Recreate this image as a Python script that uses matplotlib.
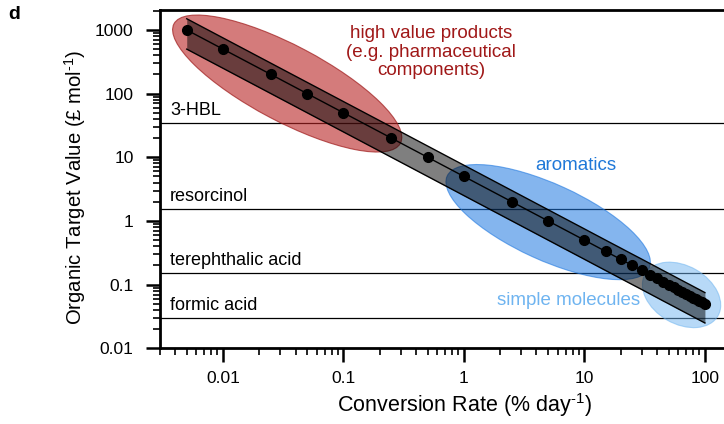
import matplotlib
matplotlib.use("Agg")
import matplotlib.pyplot as plt
from matplotlib.patches import Ellipse
from matplotlib.transforms import IdentityTransform, blended_transform_factory

plt.rcParams["font.family"] = ["Liberation Sans", "DejaVu Sans"]
plt.rcParams["mathtext.fontset"] = "custom"
plt.rcParams["mathtext.rm"] = "Liberation Sans"

# conversion rate (% per day) and organic target value (GBP per mol)
rate = [0.005, 0.01, 0.025, 0.05, 0.1, 0.25, 0.5, 1, 2.5, 5, 10, 15, 20, 25,
        30, 35, 40, 45, 50, 55, 60, 65, 70, 75, 80, 85, 90, 95, 100]
value = [1000, 500, 200, 100, 50, 20, 10, 5, 2, 1, 0.5, 0.333, 0.25, 0.2,
         0.167, 0.143, 0.125, 0.111, 0.1, 0.0909, 0.0833, 0.0769, 0.0714,
         0.0667, 0.0625, 0.0588, 0.0556, 0.0526, 0.05]
band_hi = [v * 1.5 for v in value]
band_lo = [v * 0.5 for v in value]

ref_names = ["3-HBL", "resorcinol", "terephthalic acid", "formic acid"]
ref_values = [35, 1.55, 0.155, 0.03]

# (label, centre rate, centre value, width px, height px, angle, face, edge, text colour, text pos)
groups = [
    ("high value products\n(e.g. pharmaceutical\ncomponents)", 0.0341, 144, 256, 76, -27.8,
     (0.72, 0.14, 0.14, 0.6), (0.62, 0.1, 0.1, 0.7), "#a01818", (0.533, 450)),
    ("aromatics", 5.0, 0.96, 222, 76, -24.5,
     (0.12, 0.47, 0.88, 0.55), (0.12, 0.47, 0.88, 0.6), "#1f78d8", (8.5, 7.3)),
    ("simple molecules", 64, 0.069, 84, 58, -30,
     (0.44, 0.71, 0.94, 0.5), (0.44, 0.71, 0.94, 0.55), "#6fb4f0", (7.45, 0.057)),
]

fig = plt.figure(figsize=(7.24, 4.24), dpi=100)
ax = fig.add_axes([0.221, 0.1785, 0.779, 0.798])
ax.set_xscale("log")
ax.set_yscale("log")
ax.set_xlim(0.003, 144)
ax.set_ylim(0.01, 2060)

fig.canvas.draw()
for name, cx, cy, w, h, ang, fc, ec, tc, tpos in groups:
    px, py = ax.transData.transform((cx, cy))
    e = Ellipse((px, py), w, h, angle=ang, transform=IdentityTransform(),
                facecolor=fc, edgecolor=ec, linewidth=0.8, zorder=2)
    ax.add_patch(e)
    ax.text(tpos[0], tpos[1], name, color=tc, fontsize=13.5, ha="center",
            va="center", linespacing=1.15, zorder=5)

trans = blended_transform_factory(ax.transAxes, ax.transData)
for name, v in zip(ref_names, ref_values):
    ax.axhline(v, color="black", linewidth=0.9, zorder=1)
    ax.text(0.018, v * 1.15, name, transform=trans, fontsize=13,
            ha="left", va="bottom", zorder=5)

ax.fill_between(rate, band_lo, band_hi, color="black", alpha=0.5,
                linewidth=0, zorder=3)
ax.plot(rate, band_hi, color="black", linewidth=1, zorder=3)
ax.plot(rate, band_lo, color="black", linewidth=1, zorder=3)
ax.plot(rate, value, color="black", linewidth=1, marker="o", markersize=7,
        zorder=4)

ax.set_xticks([0.01, 0.1, 1, 10, 100])
ax.set_xticklabels(["0.01", "0.1", "1", "10", "100"])
ax.set_yticks([0.01, 0.1, 1, 10, 100, 1000])
ax.set_yticklabels(["0.01", "0.1", "1", "10", "100", "1000"])
ax.tick_params(which="major", length=10, width=1.8, labelsize=12.5)
ax.tick_params(axis="x", which="major", pad=6)
ax.tick_params(axis="y", which="major", pad=9)
ax.tick_params(which="minor", length=5, width=1.2)
for s in ["left", "bottom", "top"]:
    ax.spines[s].set_linewidth(2)
ax.spines["right"].set_visible(False)

ax.set_xlabel("Conversion Rate (% day$^{\\mathregular{\u20101}}$)", fontsize=15.5, labelpad=4)
ax.set_ylabel("Organic Target Value (£ mol$^{\\mathregular{\u20101}}$)", fontsize=14.6, labelpad=5)
ax.xaxis.label.set_x(0.539)
ax.yaxis.label.set_y(0.477)
fig.text(0.012, 0.955, "d", fontsize=14, fontweight="bold")

fig.savefig("out.png", dpi=100)
